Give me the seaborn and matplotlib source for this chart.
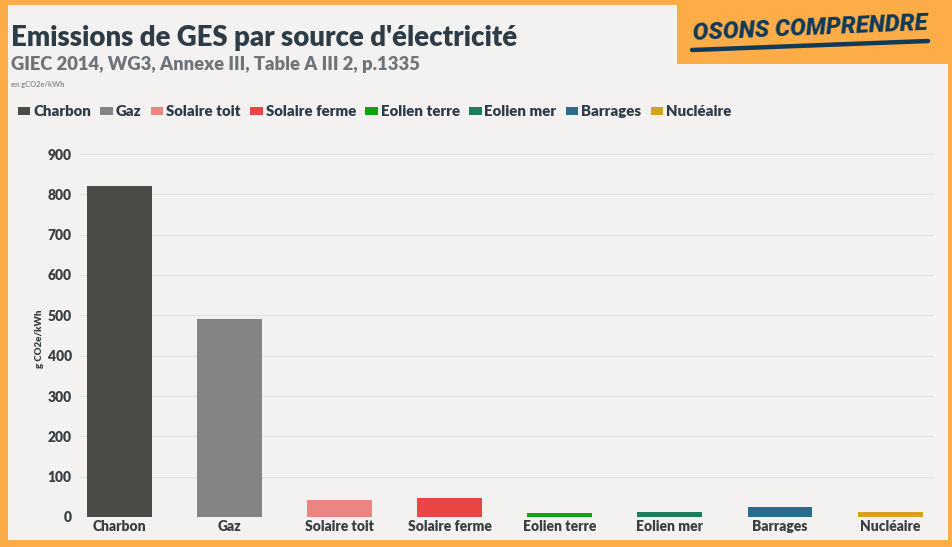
import matplotlib
matplotlib.use("Agg")
import matplotlib.pyplot as plt
from matplotlib.patches import Rectangle, Patch
from matplotlib.lines import Line2D
import seaborn as sns
import pandas as pd

# ---- data ----
categories = ["Charbon", "Gaz", "Solaire toit", "Solaire ferme",
              "Eolien terre", "Eolien mer", "Barrages", "Nucléaire"]
values = [820, 490, 41, 48, 11, 12, 24, 12]
colors = ["#4b4b47", "#858483", "#ec8482", "#ea4444",
          "#14a014", "#1f7d5c", "#2b6a8f", "#d6a21e"]
yticks = [0, 100, 200, 300, 400, 500, 600, 700, 800, 900]

title = "Emissions de GES par source d'électricité"
subtitle = "GIEC 2014, WG3, Annexe III, Table A III 2, p.1335"
unit_note = "en gCO2e/kWh"
ylabel = "g CO2e/kWh"
logo = "OSONS COMPRENDRE"

df = pd.DataFrame({"source": categories, "value": values})

sns.set_theme(style="white")
plt.rcParams["font.family"] = ["Lato", "DejaVu Sans"]

W, H = 952, 547
fig = plt.figure(figsize=(W / 100, H / 100), dpi=100)
ORANGE = "#fcad48"
BG = "#f3f2f0"
fig.patch.set_facecolor(ORANGE)

def fx(x):
    return x / W

def fy(y):
    return 1 - y / H

# inner light panel
fig.patches.append(Rectangle((fx(8), fy(540)), fx(948) - fx(8), fy(5) - fy(540),
                             transform=fig.transFigure, facecolor=BG,
                             edgecolor="none", zorder=-2))
# logo box
fig.patches.append(Rectangle((fx(677), fy(64)), fx(952) - fx(677), fy(0) - fy(64),
                             transform=fig.transFigure, facecolor=ORANGE,
                             edgecolor="none", zorder=-1))

# axes: x from 80 to 933 px, y from 517 (0) upward
ax_left, ax_right, ax_bottom = 80, 933, 517
ymax = 920
px_per_unit = (517 - 154) / 900
ax_top = ax_bottom - ymax * px_per_unit
ax = fig.add_axes([fx(ax_left), fy(ax_bottom), fx(ax_right) - fx(ax_left),
                   fy(ax_top) - fy(ax_bottom)])
ax.set_zorder(2)
ax.set_facecolor("none")

sns.barplot(data=df, x="source", y="value", hue="source",
            palette=colors, order=categories, hue_order=categories,
            width=0.59, legend=False, ax=ax, saturation=1, linewidth=0)

ax.set_xlim(-0.36, 7.39)
ax.set_ylim(0, ymax)
ax.set_yticks(yticks)
ax.yaxis.grid(True, color="#e4e3e1", linewidth=0.8)
ax.set_axisbelow(True)
for s in ax.spines.values():
    s.set_visible(False)
ax.tick_params(axis="both", length=0, colors="#3a3f44")
ax.tick_params(axis="y", pad=6)
ax.tick_params(axis="x", pad=2)
for lbl in ax.get_yticklabels() + ax.get_xticklabels():
    lbl.set_fontweight("heavy")
    lbl.set_fontsize(10)
    lbl.set_color("#3a3f44")
ax.set_xlabel("")
ax.set_ylabel(ylabel, fontsize=7, fontweight="heavy", color="#3a3f44", labelpad=4)
ax.yaxis.set_label_coords(-0.042, 0.48)

# titles
fig.text(fx(11), fy(46), title, fontsize=19.8, fontweight="heavy",
         color="#2d3c47", ha="left", va="baseline")
fig.text(fx(11), fy(70), subtitle, fontsize=13.2, fontweight="heavy",
         color="#6e757a", ha="left", va="baseline")
fig.text(fx(11), fy(87), unit_note, fontsize=5.5, fontweight="bold",
         color="#8a8e91", ha="left", va="baseline")

# legend
handles = [Patch(facecolor=c, edgecolor="none", label=l) for c, l in zip(colors, categories)]
leg = fig.legend(handles=handles, loc="center left", bbox_to_anchor=(fx(4), fy(112)),
                 ncol=len(categories), frameon=False, handlelength=0.85,
                 handleheight=0.45, handletextpad=0.2, columnspacing=0.6,
                 prop={"weight": "heavy", "size": 10.8})
for t in leg.get_texts():
    t.set_color("#2d3c47")

# logo
fig.text(fx(810), fy(28), logo, fontsize=17, fontweight="black", fontstyle="italic",
         family=["Roboto", "DejaVu Sans"], color="#0f3a5a", ha="center", va="center",
         rotation=2.5, zorder=3)
fig.lines.append(Line2D([fx(692), fx(928)], [fy(50), fy(41)], transform=fig.transFigure,
                        color="#0f3a5a", linewidth=3.2, solid_capstyle="round", zorder=3))

fig.savefig("out.png", dpi=100, facecolor=fig.get_facecolor())
